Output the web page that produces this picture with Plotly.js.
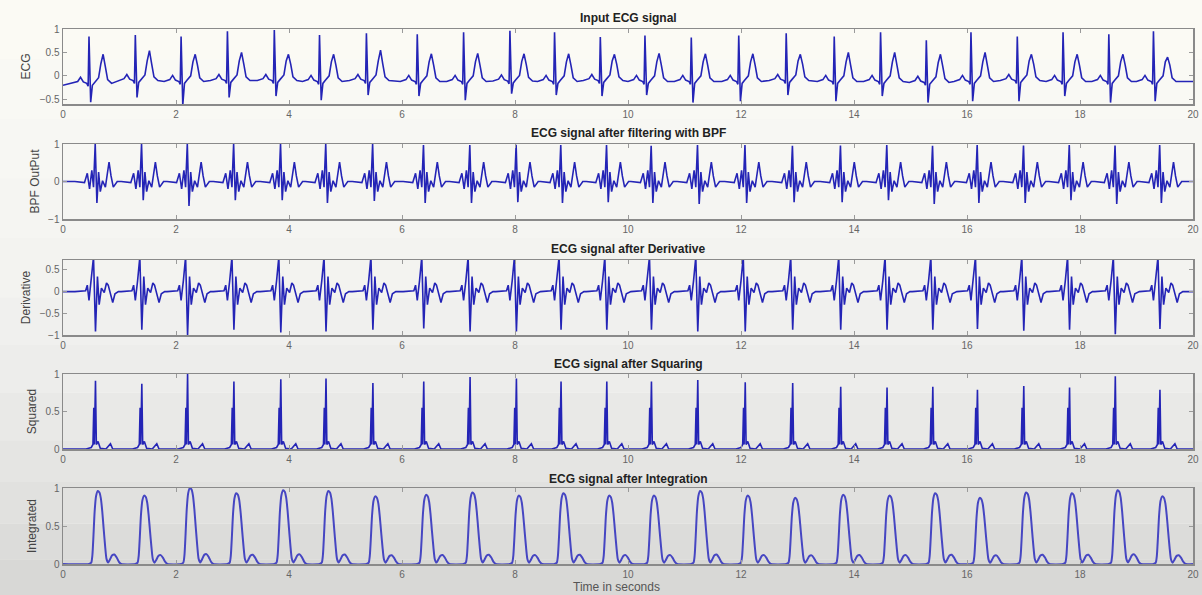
<!DOCTYPE html>
<html>
<head>
<meta charset="utf-8">
<script src="https://cdn.plot.ly/plotly-3.0.1.min.js"></script>
<style>html,body{margin:0;padding:0;background:#f4f4f1;}#chart{width:1202px;height:595px;}</style>
</head>
<body>
<div id="chart"></div>
<script>
// ---- Data ----
const panelTitles = ["Input ECG signal", "ECG signal after filtering with BPF", "ECG signal after Derivative", "ECG signal after Squaring", "ECG signal after Integration"];
const yTitles = ["ECG", "BPF OutPut", "Derivative", "Squared", "Integrated"];
const xTickVals = [0, 2, 4, 6, 8, 10, 12, 14, 16, 18, 20];
const xTitle = "Time in seconds";

// R-peak times (s) of the 24 beats
const beatTimes = [0.46, 1.28, 2.09, 2.91, 3.74, 4.54, 5.37, 6.27, 7.09, 7.91, 8.70, 9.51, 10.30, 11.12, 11.96, 12.80, 13.65, 14.47, 15.28, 16.07, 16.89, 17.70, 18.51, 19.30];

// Input ECG: per-beat R peak, S trough, T peak, baseline
const ecgR = [0.84, 0.87, 0.84, 0.95, 0.98, 0.87, 0.91, 0.89, 0.93, 0.96, 0.93, 0.83, 0.86, 0.82, 0.86, 0.91, 0.84, 0.93, 0.76, 0.93, 0.84, 0.93, 0.89, 0.95];
const ecgS = [-0.56, -0.46, -0.62, -0.46, -0.43, -0.52, -0.41, -0.43, -0.52, -0.38, -0.41, -0.43, -0.41, -0.57, -0.54, -0.41, -0.54, -0.43, -0.57, -0.54, -0.54, -0.43, -0.57, -0.54];
const ecgT = [0.46, 0.54, 0.46, 0.50, 0.46, 0.46, 0.55, 0.47, 0.48, 0.47, 0.47, 0.46, 0.48, 0.47, 0.47, 0.46, 0.50, 0.50, 0.46, 0.50, 0.46, 0.46, 0.46, 0.40];
const ecgBase = [-0.16, -0.10, -0.12, -0.10, -0.10, -0.12, -0.10, -0.12, -0.12, -0.11, -0.12, -0.10, -0.12, -0.12, -0.12, -0.10, -0.12, -0.12, -0.14, -0.12, -0.10, -0.12, -0.12, -0.12];
const ecgStart = -0.20;
// one beat of the input ECG, offsets from R (s) and levels above baseline (R, S, T filled per beat)
const ecgShapeDt = [-0.30, -0.20, -0.15, -0.10, -0.04, -0.015, 0, 0.03, 0.06, 0.10, 0.17, 0.21, 0.25, 0.29, 0.33, 0.40];
const ecgShapeDv = [0, 0.04, 0.13, 0.03, 0, -0.06, null, null, -0.04, 0.02, 0.12, 0.42, null, 0.35, 0.08, 0];

// BPF output
const bpfPeak = [1.0, 1.0, 1.0, 1.0, 1.0, 1.0, 1.0, 0.97, 0.97, 0.98, 0.97, 0.97, 0.95, 0.97, 0.97, 0.95, 0.96, 0.97, 0.95, 0.97, 0.96, 0.97, 0.96, 0.97];
const bpfTrough = [-0.57, -0.50, -0.65, -0.50, -0.50, -0.57, -0.52, -0.57, -0.57, -0.55, -0.57, -0.55, -0.57, -0.60, -0.57, -0.55, -0.55, -0.50, -0.60, -0.57, -0.57, -0.50, -0.60, -0.57];
const bpfShapeDt = [-0.25, -0.08, -0.03, 0.01, 0.05, 0.08, 0.11, 0.14, 0.17, 0.20, 0.24, 0.29, 0.32, 0.355, 0.39, 0.43, 0.50];
const bpfShapeDv = [0, -0.03, 0.22, -0.20, 0.30, -0.15, null, null, 0.25, -0.27, 0.02, -0.15, 0.20, 0.52, 0.15, -0.15, 0];

// Derivative
const derMax = [0.80, 0.80, 0.80, 0.80, 0.80, 0.80, 0.80, 0.80, 0.80, 0.80, 0.80, 0.80, 0.80, 0.80, 0.80, 0.80, 0.80, 0.80, 0.80, 0.80, 0.80, 0.80, 0.80, 0.80];
const derMin = [-0.92, -0.88, -1.0, -0.88, -0.94, -0.92, -0.88, -0.85, -0.92, -0.92, -0.88, -0.88, -0.88, -0.92, -0.92, -0.88, -0.88, -0.88, -0.88, -0.86, -0.90, -0.88, -0.98, -0.86];
const derShapeDt = [-0.25, -0.06, -0.03, 0.0, 0.04, 0.08, 0.115, 0.15, 0.18, 0.22, 0.27, 0.31, 0.34, 0.38, 0.42, 0.46, 0.52];
const derShapeDv = [0, 0.02, 0.15, -0.20, 0.25, null, null, 0.35, -0.30, 0.08, -0.02, 0.20, 0.15, -0.05, -0.25, -0.05, 0];

// Squaring
const sqPeak = [0.91, 0.87, 1.0, 0.90, 0.93, 0.94, 0.88, 0.90, 0.96, 0.94, 0.90, 0.90, 0.90, 0.92, 0.89, 0.88, 0.83, 0.82, 0.83, 0.79, 0.84, 0.82, 0.97, 0.79];
const sqShapeDt = [-0.05, 0.04, 0.07, 0.085, 0.095, 0.115, 0.13, 0.16, 0.20, 0.30, 0.34, 0.38, 0.42, 0.50];
const sqShapeDv = [0, 0.02, 0.06, 0.55, 0.06, null, 0.06, 0.10, 0.01, 0, 0.04, 0.07, 0, 0];

// Integration
const intPeak = [0.96, 0.90, 1.0, 0.93, 0.97, 0.96, 0.89, 0.91, 0.94, 0.90, 0.93, 0.90, 0.90, 0.96, 0.90, 0.87, 0.91, 0.90, 0.93, 0.87, 0.94, 0.93, 0.97, 0.89];
const intShapeDt = [0.0, 0.04, 0.06, 0.08, 0.10, 0.125, 0.155, 0.185, 0.21, 0.235, 0.26, 0.285, 0.31, 0.34, 0.37, 0.41, 0.45, 0.49, 0.53, 0.57];
const intShapeFrac = [0, 0.02, 0.12, 0.40, 0.72, 0.93, 1.0, 0.98, 0.90, 0.72, 0.48, 0.25, 0.07, 0.02, 0.06, 0.12, 0.13, 0.09, 0.03, 0];

// ---- build traces from the arrays ----
function build(startVal, endVal, dts, valFn) {
  const xs = [0], ys = [startVal];
  beatTimes.forEach((t, i) => {
    dts.forEach((d, k) => { xs.push(t + d); ys.push(valFn(i, k)); });
  });
  xs.push(20); ys.push(endVal);
  return {x: xs, y: ys};
}
const ecg = build(ecgStart, ecgBase[ecgBase.length - 1], ecgShapeDt, (i, k) => {
  if (k === 6) return ecgR[i];
  if (k === 7) return ecgS[i];
  if (k === 12) return ecgT[i];
  return ecgBase[i] + ecgShapeDv[k];
});
const bpf = build(0, 0, bpfShapeDt, (i, k) => k === 6 ? bpfPeak[i] : (k === 7 ? bpfTrough[i] : bpfShapeDv[k]));
const der = build(0, 0, derShapeDt, (i, k) => k === 5 ? derMax[i] : (k === 6 ? derMin[i] : derShapeDv[k]));
const sq = build(0, 0, sqShapeDt, (i, k) => k === 5 ? sqPeak[i] : sqShapeDv[k]);
const integ = build(0, 0, intShapeDt, (i, k) => intPeak[i] * intShapeFrac[k]);

const series = [ecg, bpf, der, sq, integ];
const yRanges = [[-0.6, 1], [-1, 1], [-1, 0.73], [0, 1], [0, 1]];
const yTicks = [[-0.5, 0, 0.5, 1], [-1, 0, 1], [-1, -0.5, 0, 0.5], [0, 0.5, 1], [0, 0.5, 1]];

// panel pixel extents (top, bottom) in the 595px-high figure
const H = 595;
const panelPx = [[29, 104], [144, 219], [260, 335], [374, 449], [488, 564]];
const titlePx = [18, 133, 249, 364, 479];

const data = series.map((s, i) => ({
  x: s.x, y: s.y, type: 'scatter', mode: 'lines',
  xaxis: i === 0 ? 'x' : 'x' + (i + 1), yaxis: i === 0 ? 'y' : 'y' + (i + 1),
  line: {color: i === 4 ? '#4646c2' : '#2424b6', width: i === 4 ? 2 : 1.6, shape: i === 4 ? 'spline' : 'linear', smoothing: 0.6},
  hoverinfo: 'skip', showlegend: false
}));

const layout = {
  width: 1202, height: 595,
  margin: {l: 63, r: 9, t: 0, b: 0},
  paper_bgcolor: '#f4f4f1',
  plot_bgcolor: 'rgba(255,255,255,0.6)',
  font: {family: 'Liberation Sans, Arial, sans-serif', color: '#333'},
  showlegend: false,
  annotations: [],
  shapes: []
};
// soft photographic shading, light at the top and greyer towards the bottom
const bandTops = [1.0, 0.9, 0.8, 0.7, 0.6, 0.5, 0.42, 0.34, 0.26, 0.19, 0.12, 0.06];
const bandCols = ['#fbfaf4', '#f9f9f4', '#f7f7f3', '#f5f5f2', '#f3f3f0', '#f0f0ee', '#ededeb', '#e9e9e7', '#e5e5e3', '#e1e1df', '#dcdcda', '#d8d8d6'];
bandTops.forEach((t, k) => layout.shapes.push({type: 'rect', xref: 'paper', yref: 'paper', x0: -0.06, x1: 1.01,
  y0: k + 1 < bandTops.length ? bandTops[k + 1] : 0, y1: t, fillcolor: bandCols[k], line: {width: 0}, layer: 'below'}));

for (let i = 0; i < 5; i++) {
  const xk = i === 0 ? 'xaxis' : 'xaxis' + (i + 1);
  const yk = i === 0 ? 'yaxis' : 'yaxis' + (i + 1);
  const top = panelPx[i][0], bot = panelPx[i][1];
  layout[xk] = {
    domain: [0, 1], anchor: i === 0 ? 'y' : 'y' + (i + 1),
    range: [0, 20], tickmode: 'array', tickvals: xTickVals,
    ticks: 'inside', ticklen: 4, tickcolor: '#9a9a9a', mirror: 'allticks',
    showline: true, linecolor: '#8a8a8a', linewidth: 1.5,
    showgrid: false, zeroline: false, automargin: false, ticklabeloverflow: 'allow',
    tickfont: {size: 10, color: '#666'}
  };
  layout[yk] = {
    domain: [1 - bot / H, 1 - top / H], anchor: i === 0 ? 'x' : 'x' + (i + 1),
    range: yRanges[i], tickmode: 'array', tickvals: yTicks[i],
    ticks: 'inside', ticklen: 4, tickcolor: '#9a9a9a', mirror: 'allticks',
    showline: true, linecolor: '#8a8a8a', linewidth: 1.5,
    showgrid: false, zeroline: false, automargin: false,
    tickfont: {size: 10, color: '#666'},
    title: {text: yTitles[i], font: {size: 12, color: '#444'}, standoff: 6}
  };
  layout.annotations.push({
    text: '<b>' + panelTitles[i] + '</b>', xref: 'paper', yref: 'paper',
    x: 0.5, y: 1 - titlePx[i] / H, xanchor: 'center', yanchor: 'middle',
    showarrow: false, font: {size: 12, color: '#222'}
  });
}
layout.annotations.push({
  text: xTitle, xref: 'paper', yref: 'paper', x: 0.49, y: 1 - 587 / H,
  xanchor: 'center', yanchor: 'middle', showarrow: false, font: {size: 12, color: '#555'}
});

Plotly.newPlot('chart', data, layout, {staticPlot: true, displayModeBar: false});
</script>
</body>
</html>
